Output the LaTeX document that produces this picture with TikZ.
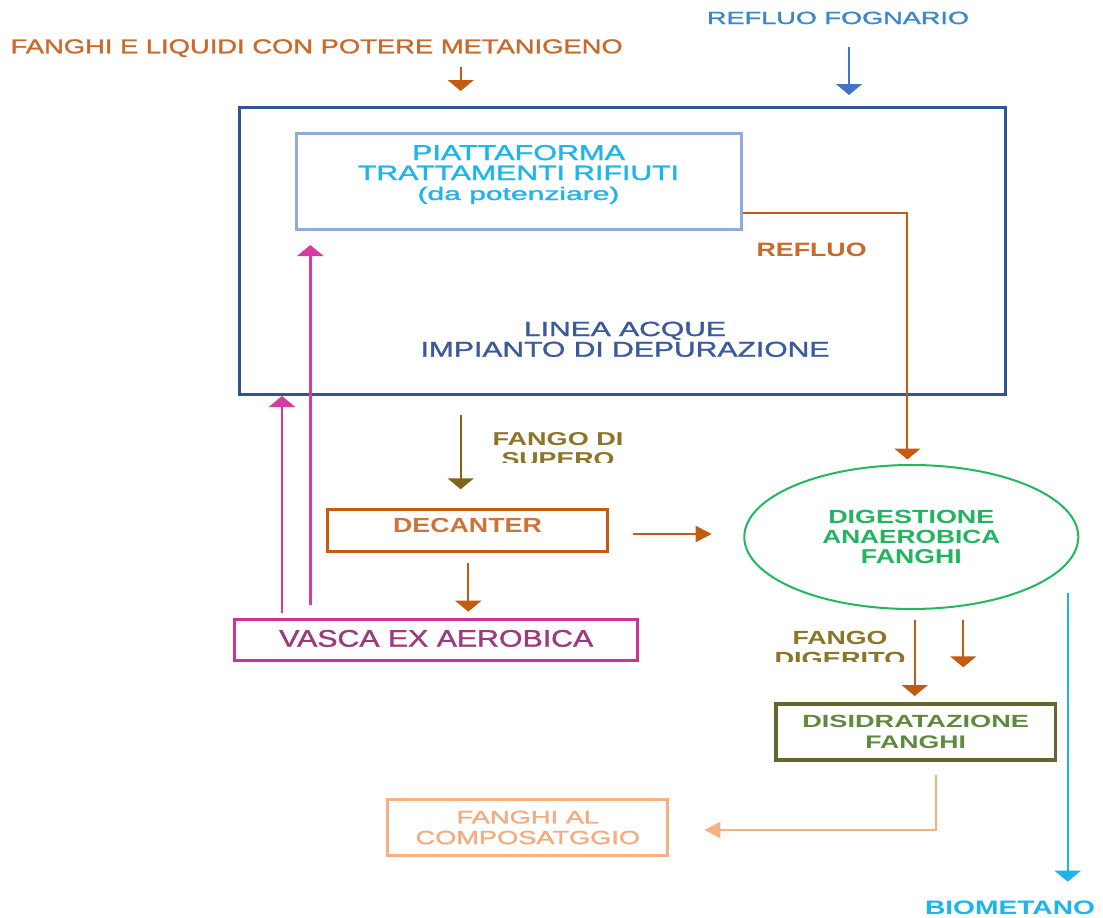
\documentclass[tikz,border=0pt]{standalone}
\usepackage{fontspec}
\setmainfont{Liberation Sans}
\newfontfamily\medf[FakeBold=1.2]{Liberation Sans}
\usepackage{graphicx}
\usetikzlibrary{arrows.meta,shapes.geometric}
\definecolor{cOrg}{HTML}{C55A11}
\definecolor{cOrgT}{HTML}{C9692C}
\definecolor{cDecT}{HTML}{CF7438}
\definecolor{cBlueT}{HTML}{3A87CC}
\definecolor{cBlueA}{HTML}{4472C4}
\definecolor{cNavy}{HTML}{2F5597}
\definecolor{cNavyT}{HTML}{3A5A9C}
\definecolor{cLBlue}{HTML}{8FAADC}
\definecolor{cCyan}{HTML}{1CB4EE}
\definecolor{cCyanT}{HTML}{1EB4EC}
\definecolor{cMag}{HTML}{D63AA5}
\definecolor{cMagBox}{HTML}{CC3399}
\definecolor{cMagT}{HTML}{9C3A80}
\definecolor{cOlive}{HTML}{806418}
\definecolor{cOliveT}{HTML}{8C7428}
\definecolor{cGreen}{HTML}{22B860}
\definecolor{cGreenT}{HTML}{22B45E}
\definecolor{cDk}{HTML}{65652F}
\definecolor{cDkT}{HTML}{5E8A3E}
\definecolor{cPeach}{HTML}{F4B183}
\definecolor{cPeachT}{HTML}{F2AC7E}
\newcommand\fitt[3]{\resizebox{#1pt}{#2pt}{#3}}
\begin{document}
\begin{tikzpicture}[x=1pt,y=-1pt,
  txt/.style={inner sep=0pt,outer sep=0pt,align=center},
  boxn/.style={draw,rectangle,inner sep=0pt,line width=3pt,align=center},
  vtip/.style={-{Triangle[length=11pt,width=26pt]}},
  htip/.style={-{Triangle[length=16pt,width=16pt]}},
  flow/.style={line width=2pt}]
\fill[white] (0,0) rectangle (1103,918);
\useasboundingbox (0,0) rectangle (1103,918);

% top labels
\node[txt,anchor=base west,text=cOrgT] (lblA) at (10.6,53.3) {\fitt{612}{14}{\medf FANGHI E LIQUIDI CON POTERE METANIGENO}};
\node[txt,anchor=base west,text=cBlueT] (lblB) at (707,24) {\fitt{262}{12.3}{\medf REFLUO FOGNARIO}};

% big box and inner box
\node[boxn,draw=cNavy,minimum width=766pt,minimum height=287pt] (linea) at (622.5,251) {};
\node[boxn,draw=cLBlue,minimum width=445pt,minimum height=96.5pt,text=cCyanT,font=\fontsize{20}{20}\selectfont\medf] (piatt) at (518.5,181.25)
  {\fitt{213}{15}{PIATTAFORMA}\\\fitt{321}{14.3}{TRATTAMENTI RIFIUTI}\\\resizebox*{202pt}{17pt}{(da potenziare)}\rule[-17.5pt]{0pt}{0pt}};
\node[txt,anchor=north,text=cNavyT,font=\fontsize{20}{20.7}\selectfont\medf] (lineaT) at (625,321.7)
  {\fitt{202}{14.3}{LINEA ACQUE}\\\fitt{409}{15}{IMPIANTO DI DEPURAZIONE}};
\node[txt,anchor=base west,text=cOrgT] (refluo) at (756.6,256.7) {\fitt{110}{13.5}{\bfseries REFLUO}};

% lower boxes
\node[boxn,draw=cOrg,minimum width=280pt,minimum height=42pt,text=cDecT] (dec) at (467.5,530.8)
  {\fitt{148.7}{14.3}{\bfseries DECANTER}\rule[-10.6pt]{0pt}{0pt}};
\node[boxn,draw=cMagBox,minimum width=402.7pt,minimum height=41pt,text=cMagT] (vasca) at (436.2,640.3)
  {\fitt{314}{16.7}{\medf VASCA EX AEROBICA}\rule[-4pt]{0pt}{0pt}};
\node[ellipse,draw=cGreen,line width=2pt,inner sep=0pt,minimum width=334pt,minimum height=144pt,align=center,text=cGreenT,font=\fontsize{20}{20}\selectfont] (dig) at (911.3,537)
  {\fitt{166}{13.3}{\bfseries DIGESTIONE}\\\fitt{178}{13.3}{\bfseries ANAEROBICA}\\\fitt{100.7}{14}{\bfseries FANGHI}};
\node[boxn,draw=cDk,line width=3.5pt,minimum width=279.8pt,minimum height=55.9pt,text=cDkT,font=\fontsize{20}{20.4}\selectfont] (disid) at (915.65,732)
  {\fitt{226.7}{12.3}{\bfseries DISIDRATAZIONE}\\\fitt{100.7}{12.7}{\bfseries FANGHI}};
\node[boxn,draw=cPeach,minimum width=279.8pt,minimum height=55.4pt,text=cPeachT,font=\fontsize{20}{20.7}\selectfont\medf] (comp) at (527.8,827.5)
  {\fitt{142.6}{12.7}{FANGHI AL}\\\fitt{224.4}{13.3}{COMPOSATGGIO}};
\node[txt,anchor=base west,text=cCyanT] (bio) at (925,914.5) {\fitt{170}{13.6}{\bfseries BIOMETANO}};

% clipped labels
\begin{scope}
\clip (480,420) rectangle (640,462.7);
\node[txt,anchor=north,text=cOliveT,font=\fontsize{20}{20}\selectfont] (fsup) at (558,432)
  {\fitt{130.7}{13}{\bfseries FANGO DI}\\\fitt{113}{13}{\bfseries SUPERO}};
\end{scope}
\begin{scope}
\clip (760,620) rectangle (912,661.7);
\node[txt,anchor=north,text=cOliveT,font=\fontsize{20}{21}\selectfont] (fdig) at (840,630.7)
  {\fitt{95}{13.3}{\bfseries FANGO}\\\fitt{131}{13.3}{\bfseries DIGERITO}};
\end{scope}

% free connector ends
\coordinate (aAs) at (460.7,66.7);  \coordinate (aAe) at (460.7,91);
\coordinate (aBs) at (849,46.7);    \coordinate (aBe) at (849,95);
\coordinate (rA) at (907.4,213);    \coordinate (rB) at (907.4,459.5);
\coordinate (fsS) at (460.7,415);   \coordinate (fsE) at (460.7,489.3);
\coordinate (dvS) at (468.3,563.3); \coordinate (dvE) at (468.3,611.7);
\coordinate (dhS) at (633.3,534);   \coordinate (dhE) at (711.7,534);
\coordinate (m1S) at (282,613);
\coordinate (m2S) at (310.3,605);   \coordinate (m2E) at (310.3,245);
\coordinate (g1S) at (914.7,620);   \coordinate (g1E) at (914.7,696);
\coordinate (g2S) at (963.3,620);   \coordinate (g2E) at (963.3,667.3);
\coordinate (pS) at (935.7,775);    \coordinate (pE) at (704.3,830);
\coordinate (cS) at (1067.7,593.3); \coordinate (cE) at (1067.7,881.7);

% connectors
\draw[flow,vtip,cOrg] (aAs) -- (aAe);
\draw[flow,vtip,cBlueA] (aBs) -- (aBe);
\draw[flow,vtip,cOrg] (piatt.east |- rA) -- (rA) -- (rB);
\draw[flow,vtip,cOlive] (fsS) -- (fsE);
\draw[flow,vtip,cOrg] (dvS) -- (dvE);
\draw[flow,htip,cOrg] (dhS) -- (dhE);
\draw[flow,line width=2.5pt,vtip,cMag] (m1S) -- (m1S |- linea.south);
\draw[flow,line width=2.5pt,vtip,cMag] (m2S) -- (m2E);
\draw[flow,vtip,cOrg] (g1S) -- (g1E);
\draw[flow,vtip,cOrg] (g2S) -- (g2E);
\draw[flow,htip,cPeach] (pS) |- (pE);
\draw[flow,vtip,cCyan] (cS) -- (cE);
\end{tikzpicture}
\end{document}
